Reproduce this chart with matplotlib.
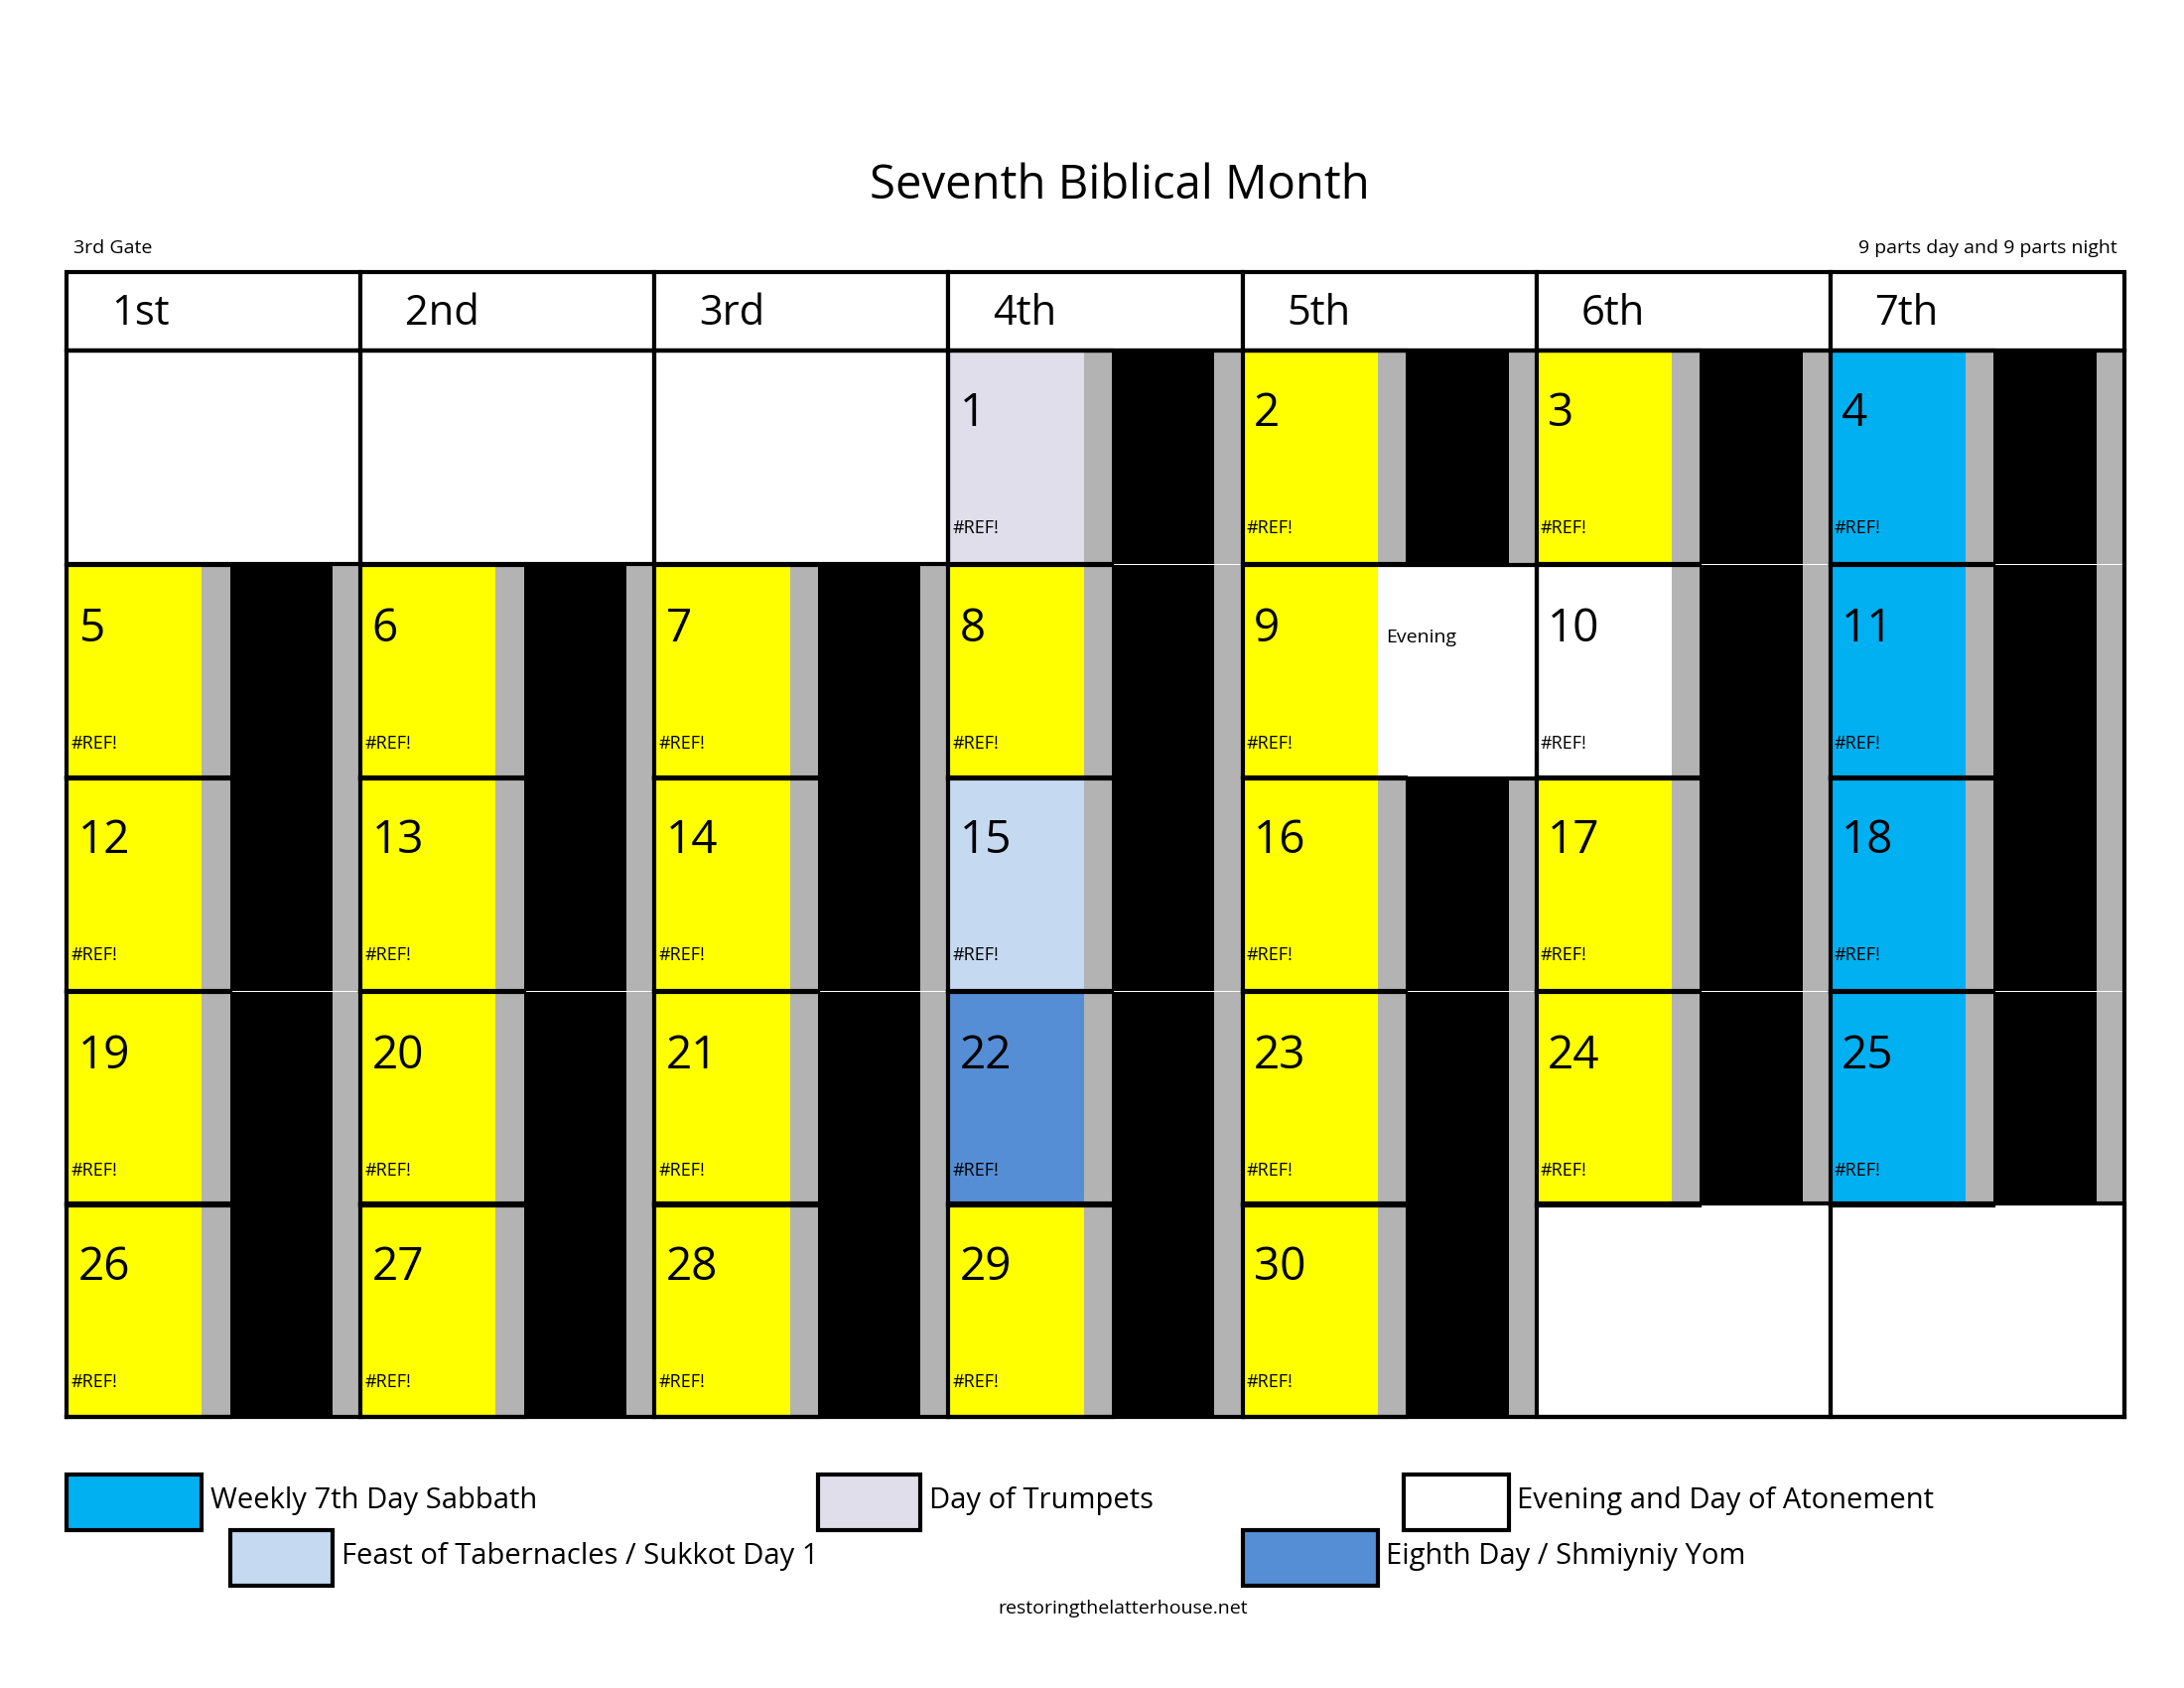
import matplotlib
matplotlib.use("Agg")
import matplotlib.pyplot as plt
from matplotlib.patches import Rectangle

plt.rcParams['font.family'] = ['Open Sans', 'DejaVu Sans']

title = "Seventh Biblical Month"
weekday_labels = ["1st", "2nd", "3rd", "4th", "5th", "6th", "7th"]
days = list(range(1, 31))
first_col = 3  # day 1 falls on 4th weekday
sabbath_days = [4, 11, 18, 25]
trumpets_days = [1]
atonement_days = [10]
tabernacles_days = [15]
eighth_days = [22]
evening_day = 9
cell_text = "#REF!"

C_YELLOW = "#FFFF00"; C_GRAY = "#B3B3B3"; C_SAB = "#00B0F0"
C_TRUMP = "#E0DEEA"; C_TAB = "#C5D9F1"; C_EIGHTH = "#558ED5"

W, H = 1568, 1210
fig = plt.figure(figsize=(22, 17), dpi=100)
ax = fig.add_axes([0, 0, 1, 1])
ax.set_xlim(0, W); ax.set_ylim(H, 0); ax.axis('off')

x0, x1 = 48, 1525
cw = (x1 - x0) / 7
hy0, hy1 = 195, 251
row_tops = [251, 405, 557, 711, 863]
rh = 153
LW = 3

def rect(x, y, w, h, fc, ec='none', lw=0, z=1):
    ax.add_patch(Rectangle((x, y), w, h, facecolor=fc, edgecolor=ec, linewidth=lw, zorder=z))

def color_for(d):
    if d in sabbath_days: return C_SAB
    if d in trumpets_days: return C_TRUMP
    if d in atonement_days: return "white"
    if d in tabernacles_days: return C_TAB
    if d in eighth_days: return C_EIGHTH
    return C_YELLOW

ax.text(W/2 + 20, 133, title, ha='center', va='center', fontsize=34)
ax.text(x0 + 5, 178, "3rd Gate", ha='left', va='center', fontsize=14)
ax.text(x1 - 5, 178, "9 parts day and 9 parts night", ha='right', va='center', fontsize=14)

for i, lab in enumerate(weekday_labels):
    cx = x0 + i * cw
    rect(cx, hy0, cw, hy1 - hy0, 'white', 'black', LW, 3)
    ax.text(cx + 32, (hy0 + hy1) / 2 + 2, lab, ha='left', va='center', fontsize=30)

for d in days:
    idx = first_col + d - 1
    r, c = divmod(idx, 7)
    cx = x0 + c * cw; cy = row_tops[r]
    rect(cx, cy, 97, rh, color_for(d))
    if d == evening_day:
        rect(cx + 97, cy, cw - 97, rh, 'white')
        ax.text(cx + 103, cy + 52, "Evening", ha='left', va='center', fontsize=14)
    else:
        rect(cx + 97, cy, 20, rh, C_GRAY)
        rect(cx + 117, cy, 74, rh, 'black')
        rect(cx + 191, cy, cw - 191, rh, C_GRAY)
    ax.text(cx + 8, cy + 46, str(d), ha='left', va='center', fontsize=33)
    ax.text(cx + 3, cy + 128, cell_text, ha='left', va='center', fontsize=13)

# borders
for r, ty in enumerate(row_tops):
    for c in range(7):
        cx = x0 + c * cw
        idx = r * 7 + c
        d = idx - first_col + 1
        if 1 <= d <= 30 and d != evening_day:
            # border only around colored part + outer frame lines
            ax.plot([cx, cx + 117], [ty, ty], color='black', lw=LW, zorder=4)
            ax.plot([cx, cx + 117], [ty + rh, ty + rh], color='black', lw=LW, zorder=4)
            ax.plot([cx, cx], [ty, ty + rh], color='black', lw=LW, zorder=4)
        else:
            rect(cx, ty, cw, rh, 'none', 'black', LW, 4)
ax.plot([x1, x1], [row_tops[0], row_tops[-1] + rh], color='black', lw=LW, zorder=4)
ax.plot([x0, x1], [row_tops[-1] + rh, row_tops[-1] + rh], color='black', lw=LW, zorder=4)
ax.plot([x0, x1], [row_tops[0], row_tops[0]], color='black', lw=LW, zorder=4)

legend_items = [
    ("Weekly 7th Day Sabbath", C_SAB, 48, 97, 1057),
    ("Day of Trumpets", C_TRUMP, 587, 74, 1057),
    ("Evening and Day of Atonement", "white", 1008, 75, 1057),
    ("Feast of Tabernacles / Sukkot Day 1", C_TAB, 165, 74, 1097),
    ("Eighth Day / Shmiyniy Yom", C_EIGHTH, 892, 97, 1097),
]
for lab, col, lx, lw_, ly in legend_items:
    rect(lx, ly, lw_, 40, col, 'black', LW, 3)
    ax.text(lx + lw_ + 6, ly + 19, lab, ha='left', va='center', fontsize=21)

ax.text(806, 1153, "restoringthelatterhouse.net", ha='center', va='center', fontsize=14)

fig.savefig("out.png", dpi=100)
